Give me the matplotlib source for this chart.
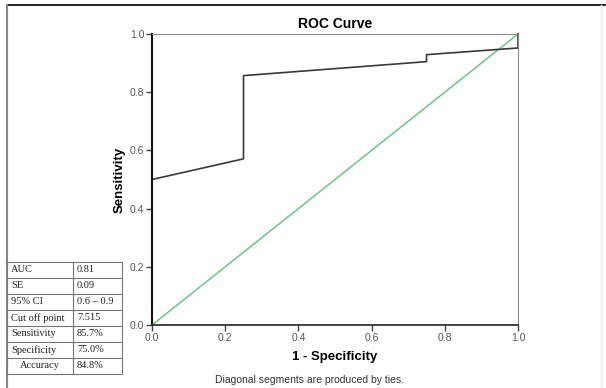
import matplotlib.pyplot as plt
from matplotlib.lines import Line2D

# ── Data ──────────────────────────────────────────────────────────────────────

fpr = [0.0, 0.25, 0.25, 0.75, 0.75, 1.0, 1.0]
tpr = [0.50, 0.571, 0.857, 0.905, 0.929, 0.952, 1.0]
ref_line = [0.0, 1.0]

ticks = [0.0, 0.2, 0.4, 0.6, 0.8, 1.0]
tick_labels = ["0.0", "0.2", "0.4", "0.6", "0.8", "1.0"]

stat_names = ["AUC", "SE", "95% CI", "Cut off point", "Sensitivity", "Specificity", "Accuracy"]
stat_values = ["0.81", "0.09", "0.6 \u2013 0.9", "7.515", "85.7%", "75.0%", "84.8%"]

# ── Figure ────────────────────────────────────────────────────────────────────

plt.rcParams["font.family"] = ["Liberation Sans", "DejaVu Sans"]

fig = plt.figure(figsize=(6.06, 3.88), dpi=100)
ax = fig.add_axes([152 / 606, 1 - 325 / 388, 366 / 606, 291 / 388])

ax.plot(ref_line, ref_line, color="#6cc38c", linewidth=1.1, clip_on=False)
ax.plot(fpr, tpr, color="#3a3a3a", linewidth=1.2, clip_on=False)

ax.set_xlim(0, 1)
ax.set_ylim(0, 1)
ax.set_xticks(ticks)
ax.set_xticklabels(tick_labels)
ax.set_yticks(ticks)
ax.set_yticklabels(tick_labels)
ax.tick_params(direction="out", length=4, width=1, labelsize=7.5,
               labelcolor="#555555", color="#444444", pad=1.5)

ax.spines["left"].set_color("#111111")
ax.spines["left"].set_linewidth(1.5)
ax.spines["bottom"].set_color("#333333")
ax.spines["bottom"].set_linewidth(1.3)
ax.spines["top"].set_color("#8a8a8a")
ax.spines["right"].set_color("#8a8a8a")

ax.set_title("ROC Curve", fontsize=10, fontweight="bold", pad=4)
ax.set_xlabel("1 - Specificity", fontsize=9.5, fontweight="bold", labelpad=6)
ax.set_ylabel("Sensitivity", fontsize=9.5, fontweight="bold", labelpad=3)

fig.text(310 / 606, 1 - 380 / 388, "Diagonal segments are produced by ties.",
         ha="center", va="center", fontsize=7.5, color="#333333")

# outer frame of the picture
fig.add_artist(Line2D([7 / 606, 1], [1 - 5 / 388, 1 - 5 / 388], color="#111111",
                      linewidth=1.3, transform=fig.transFigure))
fig.add_artist(Line2D([7 / 606, 7 / 606], [0, 1 - 5 / 388], color="#888888",
                      linewidth=1.5, transform=fig.transFigure))
fig.add_artist(Line2D([601 / 606, 601 / 606], [0, 1 - 5 / 388], color="#eeeeee",
                      linewidth=1, transform=fig.transFigure))

# ── Stats table ───────────────────────────────────────────────────────────────

left, split, right = 7, 73, 122
top, row_h = 262, 16
n = len(stat_names)
bottom = top + n * row_h
tf = fig.transFigure

def fx(px):
    return px / 606

def fy(py):
    return 1 - py / 388

for i in range(n + 1):
    y = top + i * row_h
    fig.add_artist(Line2D([fx(left), fx(right)], [fy(y), fy(y)],
                          color="#777777", linewidth=0.8, transform=tf))
for x in (left, split, right):
    fig.add_artist(Line2D([fx(x), fx(x)], [fy(top), fy(bottom)],
                          color="#777777", linewidth=0.8, transform=tf))

for i, (name, val) in enumerate(zip(stat_names, stat_values)):
    yc = top + (i + 0.5) * row_h
    if name == "Accuracy":
        fig.text(fx((left + split) / 2), fy(yc), name, ha="center", va="center",
                 fontsize=7.5, family="Liberation Serif", color="#222222")
    else:
        fig.text(fx(left + 4), fy(yc), name, ha="left", va="center",
                 fontsize=7.5, family="Liberation Serif", color="#222222")
    fig.text(fx(split + 4), fy(yc), val, ha="left", va="center",
             fontsize=7.5, family="Liberation Serif", color="#222222")

fig.savefig("out.png", dpi=100)
